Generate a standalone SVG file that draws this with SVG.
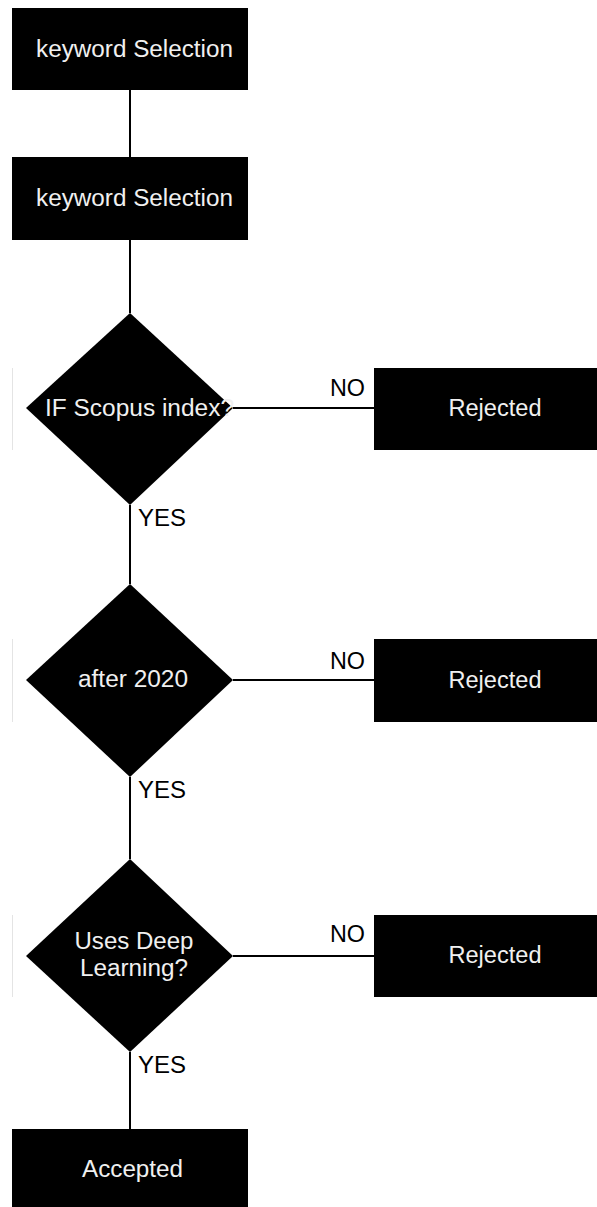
<svg xmlns="http://www.w3.org/2000/svg" width="597" height="1207" viewBox="0 0 597 1207">
<style>
.box{fill:#000}
.t{font-family:"Liberation Sans",Arial,sans-serif;font-size:23.5px;fill:#f0f0f0;text-anchor:middle}
.lbl{font-family:"Liberation Sans",Arial,sans-serif;font-size:23px;fill:#000;text-anchor:start}
.c{stroke:#000;stroke-width:2;fill:none}
.ghost{stroke:#e4e4e4;stroke-width:1;fill:none}
</style>
<rect width="597" height="1207" fill="#fff"/>
<g id="connectors">
<line class="c" x1="130" y1="90" x2="130" y2="157"/>
<line class="c" x1="130" y1="240" x2="130" y2="313"/>
<line class="c" x1="130" y1="505" x2="130" y2="584"/>
<line class="c" x1="130" y1="777" x2="130" y2="859"/>
<line class="c" x1="130" y1="1052" x2="130" y2="1129"/>
<line class="c" x1="233" y1="408" x2="374" y2="408"/>
<line class="c" x1="233" y1="680" x2="374" y2="680"/>
<line class="c" x1="233" y1="956" x2="374" y2="956"/>
<text class="lbl" x="330" y="396" textLength="35" lengthAdjust="spacingAndGlyphs">NO</text>
<text class="lbl" x="138" y="526" textLength="48" lengthAdjust="spacingAndGlyphs">YES</text>
<text class="lbl" x="330" y="669" textLength="35" lengthAdjust="spacingAndGlyphs">NO</text>
<text class="lbl" x="138" y="798" textLength="48" lengthAdjust="spacingAndGlyphs">YES</text>
<text class="lbl" x="330" y="942" textLength="35" lengthAdjust="spacingAndGlyphs">NO</text>
<text class="lbl" x="138" y="1073" textLength="48" lengthAdjust="spacingAndGlyphs">YES</text>
</g>
<g id="ghost-lines">
<line class="ghost" x1="12.5" y1="368" x2="12.5" y2="450"/>
<line class="ghost" x1="12.5" y1="639" x2="12.5" y2="722"/>
<line class="ghost" x1="12.5" y1="915" x2="12.5" y2="997"/>
</g>
<g id="start1">
<rect class="box" x="12" y="8" width="236" height="82"/>
<text class="t" x="134.5" y="57" textLength="197" lengthAdjust="spacingAndGlyphs">keyword Selection</text>
</g>
<g id="start2">
<rect class="box" x="12" y="157" width="236" height="83"/>
<text class="t" x="134.5" y="206" textLength="197" lengthAdjust="spacingAndGlyphs">keyword Selection</text>
</g>
<g id="dec1">
<polygon class="box" points="130,313 233,408 130,505 26,408"/>
<text class="t" x="139.5" y="416" textLength="189" lengthAdjust="spacingAndGlyphs">IF Scopus index?</text>
</g>
<g id="rej1">
<rect class="box" x="374" y="368" width="223" height="82"/>
<text class="t" x="495" y="416" textLength="93" lengthAdjust="spacingAndGlyphs">Rejected</text>
</g>
<g id="dec2">
<polygon class="box" points="130,584 233,680 130,777 26,680"/>
<text class="t" x="133" y="687" textLength="110" lengthAdjust="spacingAndGlyphs">after 2020</text>
</g>
<g id="rej2">
<rect class="box" x="374" y="639" width="223" height="83"/>
<text class="t" x="495" y="688" textLength="93" lengthAdjust="spacingAndGlyphs">Rejected</text>
</g>
<g id="dec3">
<polygon class="box" points="130,859 233,956 130,1052 26,956"/>
<text class="t" x="134" y="949" textLength="119" lengthAdjust="spacingAndGlyphs">Uses Deep</text>
<text class="t" x="134" y="976" textLength="108" lengthAdjust="spacingAndGlyphs">Learning?</text>
</g>
<g id="rej3">
<rect class="box" x="374" y="915" width="223" height="82"/>
<text class="t" x="495" y="963" textLength="93" lengthAdjust="spacingAndGlyphs">Rejected</text>
</g>
<g id="accepted">
<rect class="box" x="12" y="1129" width="236" height="78"/>
<text class="t" x="132.5" y="1177" textLength="101" lengthAdjust="spacingAndGlyphs">Accepted</text>
</g>
</svg>
